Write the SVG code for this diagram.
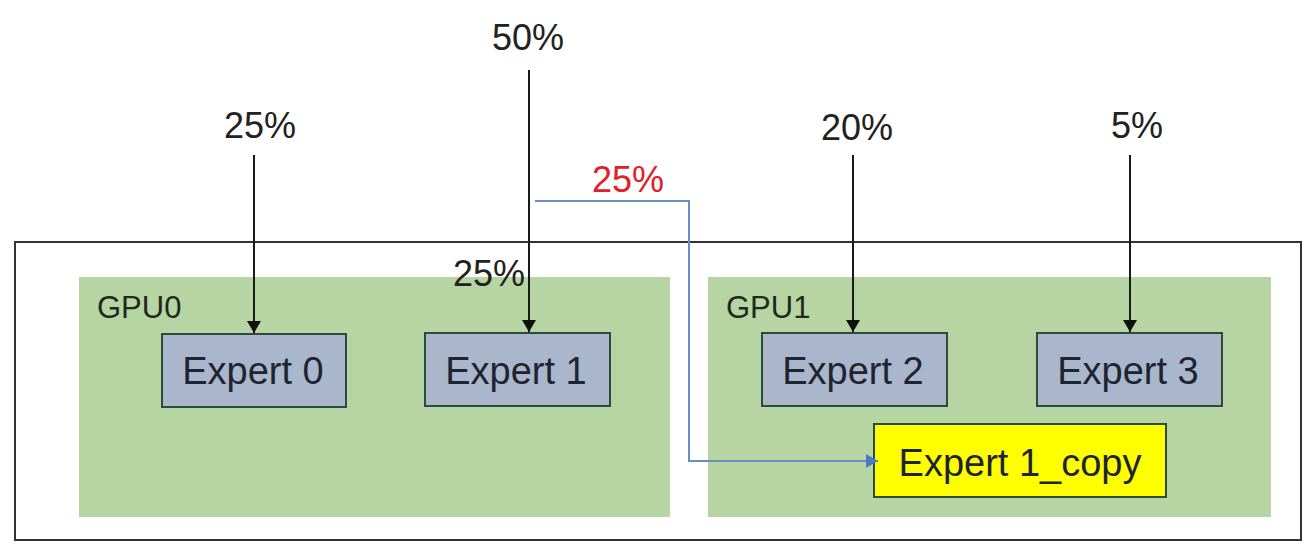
<svg xmlns="http://www.w3.org/2000/svg" width="1314" height="550" viewBox="0 0 1314 550">
<style>
.lbl{font-family:"Liberation Sans",Arial,sans-serif;font-size:36px;fill:#222;}
.gpu{font-family:"Liberation Sans",Arial,sans-serif;font-size:31px;fill:#1e2a1e;}
.exp{fill:#aab6cb;stroke:#2e4a3e;stroke-width:2;}
.ename{font-family:"Liberation Sans",Arial,sans-serif;font-size:38px;fill:#1e2430;text-anchor:middle;}
.gpubox{fill:#b7d5a2;}
.conn{stroke:#1a1a1a;stroke-width:2;fill:none;}
.blue{stroke:#6a8ec0;stroke-width:2;fill:none;}
</style>
<defs>
<marker id="ah" viewBox="0 0 12 14" refX="12" refY="7" markerWidth="12" markerHeight="14" markerUnits="userSpaceOnUse" orient="auto">
<path d="M0,0 L12,7 L0,14 z" fill="#111"/>
</marker>
<marker id="ahb" viewBox="0 0 12 14" refX="12" refY="7" markerWidth="12" markerHeight="14" markerUnits="userSpaceOnUse" orient="auto">
<path d="M0,0 L12,7 L0,14 z" fill="#4a7cc4"/>
</marker>
</defs>
<rect width="1314" height="550" fill="#fff"/>
<g id="cluster">
<rect x="15" y="242" width="1286" height="298" fill="none" stroke="#333" stroke-width="2"/>
</g>
<g id="gpu0">
<rect class="gpubox" x="79" y="277" width="591" height="240"/>
<text class="gpu" x="97" y="318">GPU0</text>
</g>
<g id="gpu1">
<rect class="gpubox" x="708" y="277" width="563" height="240"/>
<text class="gpu" x="726" y="318">GPU1</text>
</g>
<g id="expert0">
<rect class="exp" x="162" y="334" width="184" height="73"/>
<text class="ename" x="253" y="384">Expert 0</text>
</g>
<g id="expert1">
<rect class="exp" x="425" y="333" width="185" height="73"/>
<text class="ename" x="516" y="384">Expert 1</text>
</g>
<g id="expert2">
<rect class="exp" x="762" y="333" width="185" height="73"/>
<text class="ename" x="853" y="384">Expert 2</text>
</g>
<g id="expert3">
<rect class="exp" x="1037" y="333" width="185" height="73"/>
<text class="ename" x="1128" y="384">Expert 3</text>
</g>
<g id="expert1copy">
<rect x="874" y="424" width="292" height="73" fill="#ffff00" stroke="#2e4a3e" stroke-width="2"/>
<text class="ename" x="1020" y="476">Expert 1_copy</text>
</g>
<g id="connectors">
<line class="conn" x1="254" y1="155" x2="254" y2="333" marker-end="url(#ah)"/>
<line class="conn" x1="529" y1="70" x2="529" y2="332" marker-end="url(#ah)"/>
<line class="conn" x1="853" y1="155" x2="853" y2="332" marker-end="url(#ah)"/>
<line class="conn" x1="1130" y1="155" x2="1130" y2="332" marker-end="url(#ah)"/>
<polyline class="blue" points="535,201 689,201 689,461 878,461" marker-end="url(#ahb)"/>
</g>
<g id="labels">
<text class="lbl" x="224" y="138">25%</text>
<text class="lbl" x="492" y="50">50%</text>
<text class="lbl" x="821" y="140">20%</text>
<text class="lbl" x="1111" y="138">5%</text>
<text class="lbl" x="453" y="286">25%</text>
<text class="lbl" x="592" y="192" style="fill:#e0202a">25%</text>
</g>
</svg>
